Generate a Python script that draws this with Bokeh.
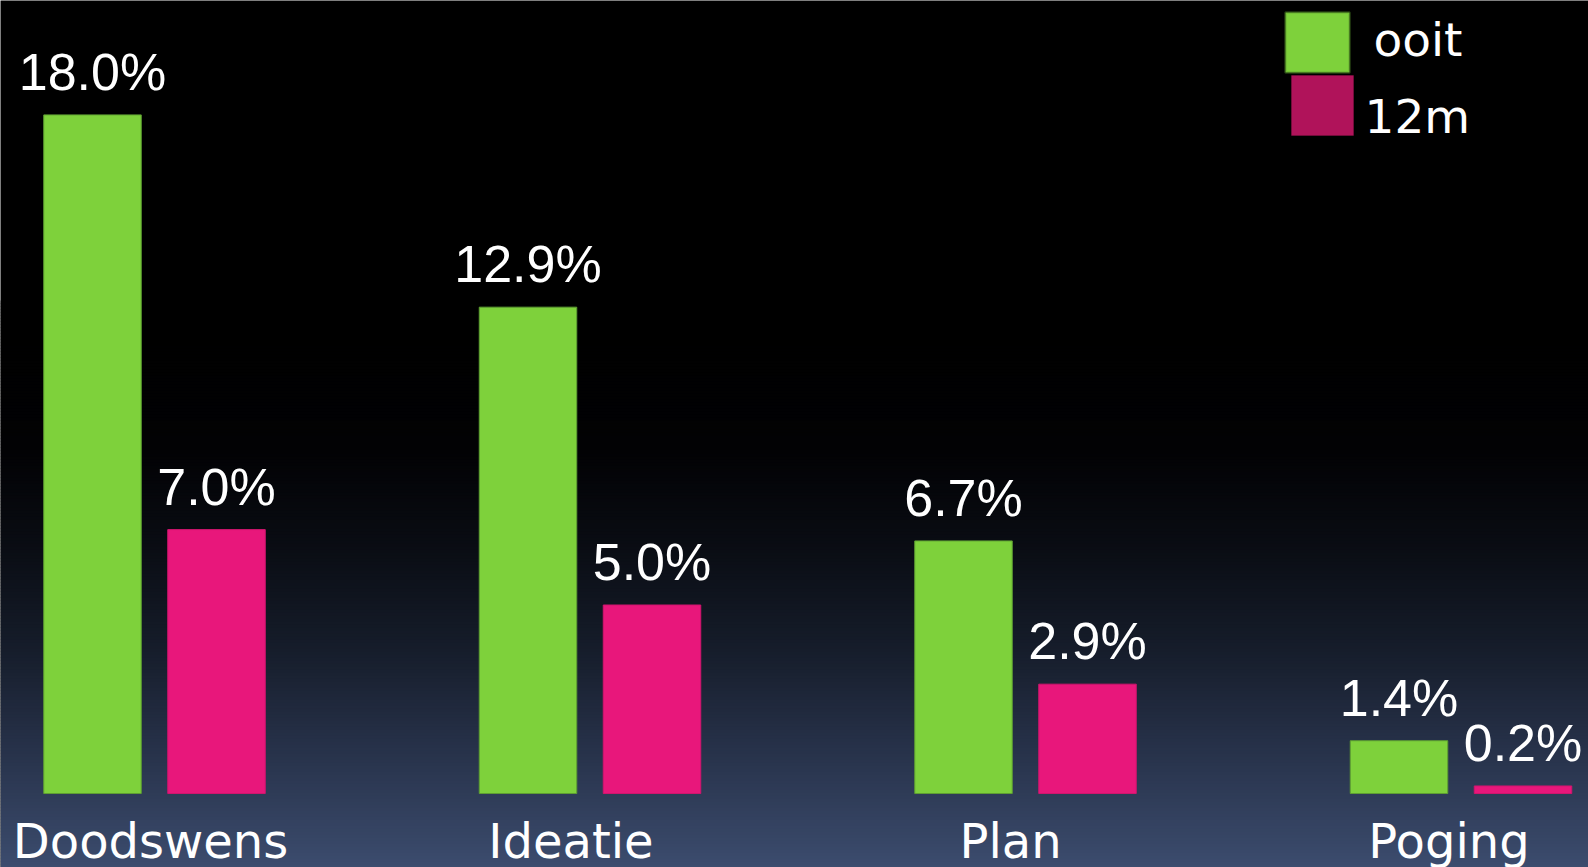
import numpy as np
from bokeh.plotting import figure
from bokeh.models import Range1d, BoxAnnotation, Label
from bokeh.core.properties import value
from bokeh.embed import file_html
from bokeh.resources import INLINE

# ---- data ----
categories = ["Doodswens", "Ideatie", "Plan", "Poging"]
ooit = [18.0, 12.9, 6.7, 1.4]
m12 = [7.0, 5.0, 2.9, 0.2]
series_names = ["ooit", "12m"]
series_colors = ["#7ED13B", "#E8177B"]
legend_colors = ["#7ED13B", "#B0135A"]

# ---- layout constants ----
W, H = 1588, 867
K = 37.7          # pixels per percent
BASE = 793        # pixel row of 0 %
GROUP = 435.5     # pixels per category
X0 = 154          # pixel centre of first category
x_start = -X0 / GROUP
x_end = x_start + W / GROUP
y_end = BASE / K
y_start = -(H - BASE) / K
cat_label_dx = [-4, -19, -15, -12]   # pixel nudges of the category labels


def px2x(px):
    return x_start + px / GROUP


def py2y(py):
    return y_end - py / K


p = figure(width=W, height=H, x_range=Range1d(x_start, x_end),
           y_range=Range1d(y_start, y_end), output_backend="svg",
           toolbar_location=None, min_border=0, x_axis_location=None,
           y_axis_location=None, outline_line_color=None,
           background_fill_color="black", border_fill_color="black")
p.grid.visible = False

# ---- background gradient (decoration) ----
anchors_y = [0, 330, 450, 550, 650, 750, 867]
anchors_c = [(0, 0, 0), (0, 0, 0), (2, 2, 4), (10, 13, 20), (22, 29, 43), (39, 50, 74), (60, 76, 110)]
step = 3
rows = np.arange(300, H, step)
cols = []
for r in rows:
    c = [int(round(np.interp(r + step / 2, anchors_y, [a[i] for a in anchors_c]))) for i in range(3)]
    cols.append("#%02x%02x%02x" % tuple(c))
tops = [py2y(r) for r in rows]
bots = [py2y(r + step + 0.5) for r in rows]
p.quad(left=x_start, right=x_end, top=tops, bottom=bots, fill_color=cols,
       line_color=None, level="underlay")

# ---- bars ----
idx = np.arange(len(categories))
off = 62 / GROUP
bw = 97.5 / GROUP
p.vbar(x=idx - off, top=ooit, bottom=0, width=bw, fill_color=series_colors[0],
       line_color="#5E9E32", line_width=1)
p.vbar(x=idx + off, top=m12, bottom=0, width=bw, fill_color=series_colors[1],
       line_color="#D0156E", line_width=1)

# ---- value labels ----
for xs, vals in ((idx - off, ooit), (idx + off, m12)):
    p.text(x=xs, y=vals, text=["%.1f%%" % v for v in vals], text_align="center",
           text_baseline="alphabetic", y_offset=-43,
           text_font=value("Liberation Sans"), text_font_size="52px",
           text_color="white")

# ---- category labels ----
p.text(x=idx, y=[0] * len(categories), text=categories, text_align="center",
       text_baseline="alphabetic", y_offset=47, x_offset=cat_label_dx,
       text_font=value("DejaVu Sans"), text_font_size="48px", text_color="white")

# ---- legend (manual) ----
p.add_layout(BoxAnnotation(left=px2x(1285), right=px2x(1349), top=py2y(12), bottom=py2y(72),
                           fill_color=legend_colors[0], fill_alpha=1,
                           line_color="#5B9A2A", line_width=3))
p.add_layout(BoxAnnotation(left=px2x(1291), right=px2x(1353), top=py2y(75), bottom=py2y(135),
                           fill_color=legend_colors[1], fill_alpha=1,
                           line_color=legend_colors[1], line_width=1))
p.add_layout(Label(x=px2x(1373), y=py2y(53), text=series_names[0],
                   text_baseline="alphabetic", y_offset=14,
                   text_font="DejaVu Sans", text_font_size="47px", text_color="white"))
p.add_layout(Label(x=px2x(1364), y=py2y(130), text=series_names[1],
                   text_baseline="alphabetic", y_offset=14,
                   text_font="DejaVu Sans", text_font_size="47px", text_color="white"))

open("out.html", "w").write(file_html(p, INLINE))
